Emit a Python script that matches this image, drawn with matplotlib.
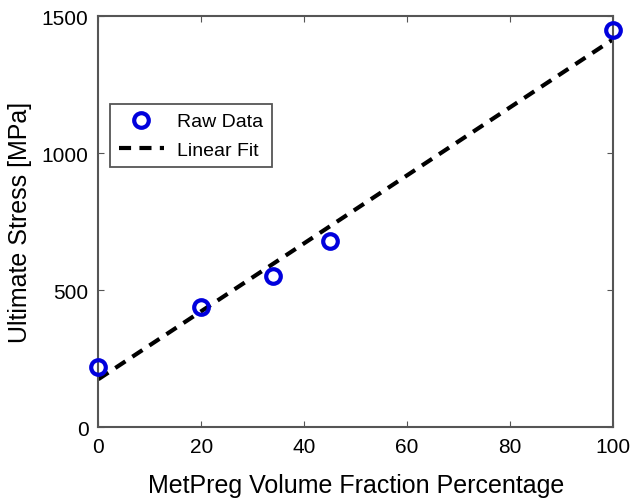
import numpy as np
import matplotlib.pyplot as plt

plt.rcParams['font.family'] = ['Liberation Sans', 'DejaVu Sans']

# raw data
vol_frac = [0, 20, 34, 45, 100]
stress = [220, 440, 550, 680, 1450]

# linear fit end points
fit_x = [0, 100]
fit_y = [175, 1415]

fig = plt.figure(figsize=(6.3, 5.02), dpi=100)
ax = fig.add_axes([0.156, 0.147, 0.817, 0.819])

ax.plot(vol_frac, stress, 'o', mfc='none', mec='#0000dd', ms=10.5, mew=3,
        label='Raw Data', zorder=3, clip_on=False)
ax.plot(fit_x, fit_y, '--', color='black', lw=3, dashes=(2.9, 2.0),
        label='Linear Fit')

ax.set_xlim(0, 100)
ax.set_ylim(0, 1500)
ax.set_xticks([0, 20, 40, 60, 80, 100])
ax.set_yticks([0, 500, 1000, 1500])
ax.tick_params(direction='in', length=4, top=True, right=True,
               labelsize=15, color='#555555', pad=7)
for s in ax.spines.values():
    s.set_color('#555555')
    s.set_linewidth(1.5)

ax.set_xlabel('MetPreg Volume Fraction Percentage', fontsize=18, labelpad=12)
ax.set_ylabel('Ultimate Stress [MPa]', fontsize=18, labelpad=7)

leg = ax.legend(loc='upper left', bbox_to_anchor=(0.023, 0.786), fontsize=14,
                fancybox=False, edgecolor='#555555', framealpha=1,
                handlelength=2.3, borderpad=0.45, labelspacing=0.55,
                borderaxespad=0, handletextpad=0.7)
leg.get_frame().set_linewidth(1.3)

fig.savefig('out.png', dpi=100)
